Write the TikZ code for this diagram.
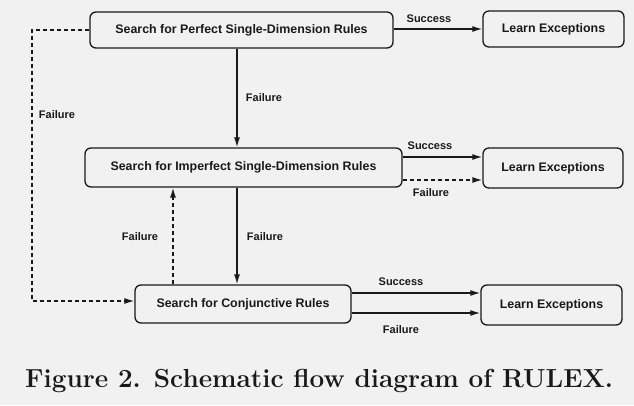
\documentclass[tikz,border=0pt]{standalone}
\usepackage{fontspec}
\newfontfamily\hv{Liberation Sans}
\usetikzlibrary{arrows.meta}
\definecolor{paper}{RGB}{241,241,241}
\definecolor{ink}{RGB}{25,25,25}
\begin{document}
\begin{tikzpicture}[x=1pt,y=-1pt,
  box/.style={draw=ink,line width=1.3pt,rounded corners=6pt,font=\hv\bfseries\fontsize{12.4}{13}\selectfont,text=ink,inner sep=0pt},
  lab/.style={font=\hv\bfseries\fontsize{11}{12}\selectfont,text=ink,inner sep=0pt},
  conn/.style={draw=ink,line width=1.4pt,-{Latex[length=10pt,width=6pt]}},
  dconn/.style={conn,dash pattern=on 4pt off 3pt}]
\fill[paper] (0,0) rectangle (634,405);
\useasboundingbox (0,0) rectangle (634,405);
% boxes
\node[box,minimum width=303pt,minimum height=36pt] (s1) at (241.5,30) {Search for Perfect Single-Dimension Rules};
\node[box,minimum width=141pt,minimum height=36pt] (e1) at (553.5,29) {Learn Exceptions};
\node[box,minimum width=317pt,minimum height=39pt] (s2) at (243.5,167.5) {Search for Imperfect Single-Dimension Rules};
\node[box,minimum width=140pt,minimum height=40pt] (e2) at (553,168) {Learn Exceptions};
\node[box,minimum width=216pt,minimum height=38pt] (s3) at (243,304) {Search for Conjunctive Rules};
\node[box,minimum width=141pt,minimum height=40pt] (e3) at (551.5,305) {Learn Exceptions};
% helper coordinates
\coordinate (vx) at (237,0);
\coordinate (ux) at (173,0);
\coordinate (y1) at (0,29);
\coordinate (y2s) at (0,157);
\coordinate (y2f) at (0,180);
\coordinate (y3s) at (0,293);
\coordinate (y3f) at (0,313);
\coordinate (lt) at (32,30);
\coordinate (lb) at (32,301);
% connectors
\draw[conn] (s1.east |- y1) -- (e1.west |- y1);
\draw[conn] (s1.south -| vx) -- (s2.north -| vx);
\draw[conn] (s2.south -| vx) -- (s3.north -| vx);
\draw[dconn] (s3.north -| ux) -- (s2.south -| ux);
\draw[conn] (s2.east |- y2s) -- (e2.west |- y2s);
\draw[dconn] (s2.east |- y2f) -- (e2.west |- y2f);
\draw[conn] (s3.east |- y3s) -- (e3.west |- y3s);
\draw[conn] (s3.east |- y3f) -- (e3.west |- y3f);
\draw[dconn] (s1.west |- lt) -- (lt) -- (lb) -- (s3.west |- lb);
% labels
\node[lab] (l1) at (429,19) {Success};
\node[lab] (l2) at (57,115) {Failure};
\node[lab] (l3) at (264,98) {Failure};
\node[lab] (l4) at (430,146) {Success};
\node[lab] (l5) at (431,193) {Failure};
\node[lab] (l6) at (140,237) {Failure};
\node[lab] (l7) at (265,237) {Failure};
\node[lab] (l8) at (401,282) {Success};
\node[lab] (l9) at (401,330) {Failure};
% caption
\node[anchor=base west,inner sep=0pt,text=ink,font=\bfseries\fontsize{26.1}{28}\selectfont] (cap) at (25,387) {Figure 2. Schematic flow diagram of RULEX.};
\end{tikzpicture}
\end{document}
